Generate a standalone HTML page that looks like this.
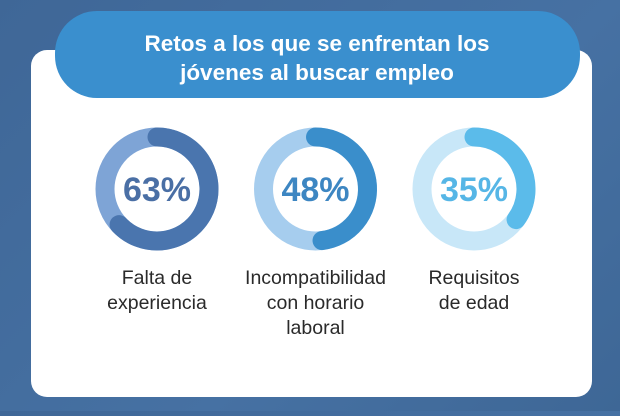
<!DOCTYPE html>
<html><head><meta charset="utf-8"><style>
html,body{margin:0;padding:0;}
body{width:620px;height:411px;overflow:hidden;background:linear-gradient(135deg,#3f6797,#4671a3 60%,#3e6796);font-family:"Liberation Sans",sans-serif;}
</style></head><body>
<svg id="chart" width="620" height="411" xmlns="http://www.w3.org/2000/svg">
<rect x="31" y="50" width="561" height="347" rx="16" fill="#ffffff"/>
<rect x="55" y="11" width="525" height="87" rx="42" fill="#3a8fce"/>
<text x="317" y="51" text-anchor="middle" font-size="22.5" font-weight="bold" fill="#fff">Retos a los que se enfrentan los</text>
<text x="317" y="80" text-anchor="middle" font-size="22.5" font-weight="bold" fill="#fff">jóvenes al buscar empleo</text>
<g id="donuts"></g>
</svg>
<script>
const categories = [["Falta de","experiencia"],["Incompatibilidad","con horario","laboral"],["Requisitos","de edad"]];
const values = [63,48,35];
const fgColors = ["#4a75ae","#3a8ecb","#5bbbea"];
const bgColors = ["#7ea4d6","#a6cdee","#c8e7f8"];
const textColors = ["#4a6fa5","#3d86c2","#56b6e6"];
const ns="http://www.w3.org/2000/svg";
const g=document.getElementById('donuts');
const cx0=157, dx=158.5, cy=189, r=52, sw=19;
function xPos(i){return cx0+i*dx;}
function arcPath(cx,cy,r,frac){
  if(frac>=1)frac=0.9999;
  const a=frac*2*Math.PI;
  const x=cx+r*Math.sin(a), y=cy-r*Math.cos(a);
  return `M${cx} ${cy-r} A${r} ${r} 0 ${frac>0.5?1:0} 1 ${x} ${y}`;
}
values.forEach((v,i)=>{
  const cx=xPos(i);
  const bg=document.createElementNS(ns,'circle');
  bg.setAttribute('cx',cx);bg.setAttribute('cy',cy);bg.setAttribute('r',r);
  bg.setAttribute('fill','none');bg.setAttribute('stroke',bgColors[i]);bg.setAttribute('stroke-width',sw);
  
  
  g.appendChild(bg);
  const p=document.createElementNS(ns,'path');
  p.setAttribute('d',arcPath(cx,cy,r,v/100));
  p.setAttribute('fill','none');p.setAttribute('stroke',fgColors[i]);p.setAttribute('stroke-width',sw);p.setAttribute('stroke-linecap','round');
  
  
  g.appendChild(p);
  const t=document.createElementNS(ns,'text');
  t.setAttribute('x',cx);t.setAttribute('y',cy+12);t.setAttribute('text-anchor','middle');
  t.setAttribute('font-size','34');t.setAttribute('font-weight','bold');t.setAttribute('fill',textColors[i]);
  t.textContent=v+'%';
  
  
  g.appendChild(t);
  categories[i].forEach((line,j)=>{
    const l=document.createElementNS(ns,'text');
    l.setAttribute('x',cx);l.setAttribute('y',284+j*25);l.setAttribute('text-anchor','middle');
    l.setAttribute('font-size','19.5');l.setAttribute('fill','#2a2a2a');
    l.textContent=line;
    
    
    g.appendChild(l);
  });
});
</script>
</body></html>
